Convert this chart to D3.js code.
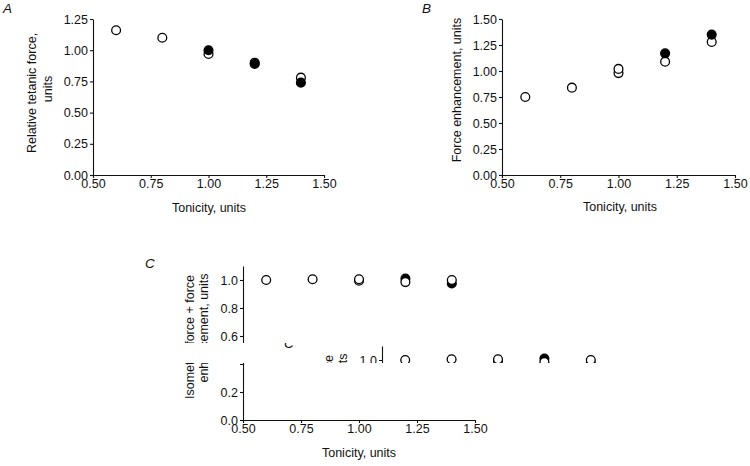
<!DOCTYPE html>
<html><head><meta charset="utf-8">
<script src="https://cdn.jsdelivr.net/npm/d3@7"></script>
<style>body{margin:0;background:#fff}svg{display:block}</style>
</head><body>
<svg id="chart" width="750" height="466"></svg>
<script>
// ---------- data ----------
const xTickValues = [0.5, 0.75, 1.0, 1.25, 1.5];
const aYTicks = [0, 0.25, 0.5, 0.75, 1.0, 1.25];
const bYTicks = [0, 0.25, 0.5, 0.75, 1.0, 1.25, 1.5];
const cYTicks = [0, 0.2, 0.4, 0.6, 0.8, 1.0];

// Panel A: relative tetanic force
const aOpenX   = [0.6, 0.8, 1.0, 1.2, 1.4];
const aOpenY   = [1.16, 1.10, 0.97, 0.90, 0.78];
const aFilledX = [1.0, 1.2, 1.4];
const aFilledY = [1.00, 0.89, 0.74];

// Panel B: force enhancement
const bOpenX   = [0.6, 0.8, 1.0, 1.0, 1.2, 1.4];
const bOpenY   = [0.75, 0.84, 0.98, 1.02, 1.09, 1.28];
const bFilledX = [1.2, 1.4];
const bFilledY = [1.17, 1.35];

// Panel C: isometric force + force enhancement
const cOpenX   = [0.6, 0.8, 1.0, 1.0, 1.2, 1.4];
const cOpenY   = [1.0, 1.005, 0.995, 1.005, 0.985, 1.0];
const cFilledX = [1.2, 1.4];
const cFilledY = [1.01, 0.975];

// ---------- drawing ----------
const FONT = "'Liberation Sans', Arial, Helvetica, sans-serif";
const svg = d3.select("#chart");
svg.append("rect").attr("width", 750).attr("height", 466).attr("fill", "#fff");

function drawPanel(cfg) {
  const g = svg.append("g").attr("id", cfg.id);
  const x = d3.scaleLinear().domain([0.5, 1.5]).range(cfg.xRange);
  const y = d3.scaleLinear().domain(cfg.yDomain).range(cfg.yRange);

  const xa = g.append("g")
    .attr("transform", `translate(0,${cfg.yRange[0]})`)
    .call(d3.axisBottom(x).tickValues(xTickValues).tickFormat(d3.format(".2f"))
      .tickSize(3).tickSizeOuter(0).tickPadding(1));
  const ya = g.append("g")
    .attr("transform", `translate(${cfg.xRange[0]},0)`)
    .call(d3.axisLeft(y).tickValues(cfg.yTicks).tickFormat(d3.format(cfg.yFmt))
      .tickSize(3).tickSizeOuter(0).tickPadding(2));
  [xa, ya].forEach(a => {
    a.attr("font-family", FONT).attr("font-size", 12.5);
    a.selectAll("path,line").attr("stroke", "#111").attr("stroke-width", 1.1);
    a.selectAll("text").attr("fill", "#111");
  });

  cfg.series.forEach(s => {
    g.append("g").selectAll("circle")
      .data(s.xs.map((v, i) => [v, s.ys[i]]))
      .join("circle")
      .attr("cx", d => x(d[0]))
      .attr("cy", d => y(d[1]))
      .attr("r", 4.4)
      .attr("fill", s.filled ? "#000" : "#fff")
      .attr("stroke", "#000")
      .attr("stroke-width", 1.3);
  });

  const txt = (t, tx, ty, rot, opts = {}) => g.append("text")
    .attr("transform", `translate(${tx},${ty})` + (rot ? " rotate(-90)" : ""))
    .attr("text-anchor", opts.anchor || "middle")
    .attr("font-family", FONT)
    .attr("font-size", opts.size || 12.5)
    .attr("font-style", opts.italic ? "italic" : null)
    .attr("fill", "#111")
    .text(t);

  txt(cfg.letter[0], cfg.letter[1], cfg.letter[2], false, {anchor: "start", italic: true, size: 13.5});
  txt("Tonicity, units", cfg.xTitle[0], cfg.xTitle[1], false);
  cfg.yTitle.forEach(l => txt(l[0], l[1], l[2], true));
  return g;
}

drawPanel({
  id: "panelA", xRange: [93, 324], yDomain: [0, 1.25], yRange: [175, 19],
  yTicks: aYTicks, yFmt: ".2f",
  series: [{xs: aOpenX, ys: aOpenY, filled: false}, {xs: aFilledX, ys: aFilledY, filled: true}],
  letter: ["A", 3, 13], xTitle: [209, 212],
  yTitle: [["Relative tetanic force,", 36, 93], ["units", 52, 89]]
});

drawPanel({
  id: "panelB", xRange: [502, 735], yDomain: [0, 1.5], yRange: [175, 19],
  yTicks: bYTicks, yFmt: ".2f",
  series: [{xs: bOpenX, ys: bOpenY, filled: false}, {xs: bFilledX, ys: bFilledY, filled: true}],
  letter: ["B", 422, 13], xTitle: [620, 211],
  yTitle: [["Force enhancement, units", 461, 90]]
});

drawPanel({
  id: "panelC", xRange: [243, 475], yDomain: [0, 1.1], yRange: [420, 266],
  yTicks: cYTicks, yFmt: ".1f",
  series: [{xs: cFilledX, ys: cFilledY, filled: true}, {xs: cOpenX, ys: cOpenY, filled: false}],
  letter: ["C", 145, 268], xTitle: [359, 457],
  yTitle: [["Isometric force + force", 194, 337], ["enhancement, units", 208, 328]]
});

// scan defect in the original: a band of panel C replaced by a shifted copy of its top
const clip = svg.append("defs").append("clipPath").attr("id", "strip");
clip.append("rect").attr("x", 170).attr("y", 343).attr("width", 470).attr("height", 20);
clip.append("rect").attr("x", 212).attr("y", 362).attr("width", 28).attr("height", 10);
const strip = svg.append("g").attr("clip-path", "url(#strip)");
strip.append("rect").attr("x", 0).attr("y", 0).attr("width", 750).attr("height", 466).attr("fill", "#fff");
strip.append("use").attr("href", "#panelC").attr("transform", "translate(139,80)");
</script>
</body></html>
